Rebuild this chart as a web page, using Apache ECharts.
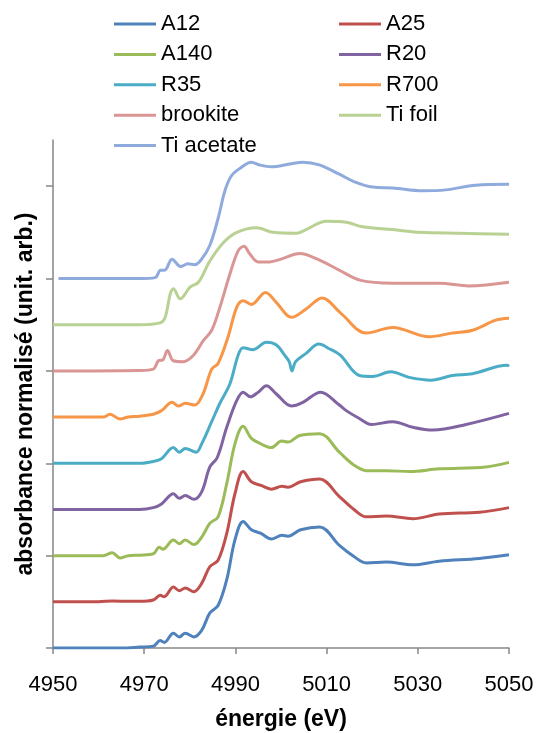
<!DOCTYPE html>
<html>
<head>
<meta charset="utf-8">
<script src="https://cdn.jsdelivr.net/npm/echarts@6/dist/echarts.min.js"></script>
<style>
html,body{margin:0;padding:0;background:#fff;}
#chart{width:539px;height:733px;}
</style>
</head>
<body>
<div id="chart"></div>
<script>
// Series names (legend order)
const seriesNames = ['A12','A25','A140','R20','R35','R700','brookite','Ti foil','Ti acetate'];
const legendCol1 = ['A12','A140','R35','brookite','Ti acetate'];
const legendCol2 = ['A25','R20','R700','Ti foil'];
const xTicks = [4950,4970,4990,5010,5030,5050];
const yTicks = [0,1,2,3,4,5];

// [energy (eV), normalised absorbance + offset]
const A12 = [[4950,0],[4960,0],[4965,0.0],[4969,0.01],[4972,0.02],[4973.5,0.08],[4974.4,0.06],[4976.4,0.16],[4977.7,0.12],[4979,0.16],[4980.9,0.12],[4982.6,0.19],[4984.4,0.38],[4986.2,0.46],[4988.1,0.74],[4989.9,1.17],[4991.7,1.37],[4993.5,1.28],[4995.6,1.24],[4997.9,1.18],[5000.2,1.22],[5001.5,1.21],[5004.3,1.28],[5008.5,1.31],[5012.8,1.11],[5016,0.99],[5018.7,0.92],[5023.1,0.93],[5028.9,0.90],[5034.7,0.94],[5043.5,0.97],[5050,1.01]];
const A25 = [[4950,0.5],[4960,0.5],[4963,0.51],[4969,0.505],[4972,0.52],[4973.5,0.57],[4974.4,0.555],[4976.4,0.66],[4977.7,0.62],[4979,0.65],[4980.9,0.61],[4982.6,0.70],[4984.4,0.88],[4986.2,0.95],[4988.1,1.24],[4989.9,1.67],[4991.7,1.91],[4993.5,1.80],[4995.6,1.76],[4997.9,1.72],[5000.2,1.75],[5001.5,1.74],[5004.3,1.80],[5008.5,1.83],[5012.8,1.64],[5016,1.50],[5018.7,1.42],[5023.1,1.43],[5028.9,1.40],[5034.7,1.45],[5043.5,1.47],[5050,1.52]];
const A140 = [[4950,1.0],[4961,1.0],[4963,1.03],[4964.7,0.975],[4966.5,1.0],[4969,1.005],[4972,1.02],[4973.3,1.09],[4974.1,1.07],[4976.4,1.17],[4977.7,1.13],[4979,1.17],[4980.9,1.12],[4982.6,1.20],[4984.4,1.35],[4986.2,1.42],[4988.1,1.78],[4989.9,2.21],[4991.7,2.40],[4993.5,2.27],[4995.6,2.21],[4997.9,2.17],[5000.1,2.24],[5001.5,2.23],[5004.1,2.30],[5008.5,2.32],[5012.8,2.12],[5016,1.98],[5018.7,1.92],[5023.1,1.92],[5028.2,1.91],[5034.7,1.94],[5044.9,1.96],[5050,2.01]];
const R20 = [[4950,1.5],[4969,1.50],[4972,1.52],[4973.8,1.56],[4976.4,1.67],[4977.7,1.62],[4979,1.65],[4980.9,1.61],[4982.6,1.69],[4984.4,1.96],[4986.0,2.06],[4988.1,2.39],[4990.3,2.68],[4991.7,2.77],[4993.3,2.72],[4995,2.77],[4996.8,2.84],[4999,2.75],[5002.3,2.62],[5004.8,2.66],[5008.7,2.77],[5012.8,2.63],[5014.3,2.57],[5017,2.49],[5019.8,2.42],[5024.5,2.45],[5028.9,2.39],[5033.3,2.36],[5040.6,2.42],[5050,2.54]];
const R35 = [[4950,2.0],[4969,2.0],[4972,2.02],[4973.8,2.05],[4976.4,2.17],[4977.7,2.12],[4979,2.16],[4981.4,2.12],[4982.6,2.21],[4984.8,2.45],[4986.6,2.65],[4988.8,2.86],[4990.6,3.17],[4991.7,3.25],[4993.9,3.23],[4996.8,3.31],[4999,3.28],[5000.8,3.17],[5001.8,3.10],[5002.4,3.00],[5003.2,3.10],[5005.5,3.19],[5008.3,3.29],[5010.6,3.24],[5013,3.17],[5017.2,2.95],[5020.1,2.94],[5024.1,2.99],[5028.1,2.93],[5032.9,2.90],[5037.6,2.95],[5042,2.97],[5049.6,3.06],[5050,3.05]];
const R700 = [[4950,2.5],[4961,2.5],[4962.5,2.53],[4964.7,2.48],[4966.5,2.5],[4969,2.51],[4972,2.53],[4973.8,2.57],[4976.1,2.66],[4977.5,2.62],[4979,2.65],[4981.1,2.63],[4982.9,2.75],[4984.8,3.02],[4986.2,3.08],[4988.4,3.37],[4990.3,3.69],[4991.7,3.76],[4993.5,3.72],[4996.6,3.85],[4999,3.74],[5002.3,3.58],[5005.5,3.67],[5009,3.79],[5013.2,3.62],[5018.7,3.41],[5024.5,3.47],[5032.5,3.37],[5037.6,3.41],[5042,3.44],[5047.1,3.55],[5050,3.57]];
const brookite = [[4950,3.0],[4969,3.005],[4972,3.02],[4973.1,3.11],[4974.1,3.12],[4975.1,3.22],[4976.4,3.11],[4978.6,3.10],[4980.8,3.17],[4983,3.33],[4984.8,3.44],[4986.6,3.69],[4988.8,4.05],[4990.6,4.30],[4991.9,4.35],[4993.1,4.27],[4995,4.18],[4997.5,4.18],[5000,4.21],[5004.1,4.27],[5008,4.21],[5012.8,4.09],[5017.5,3.98],[5024.5,3.95],[5034.7,3.95],[5041.2,3.92],[5050,3.96]];
const TiFoil = [[4950,3.5],[4969,3.50],[4973.5,3.52],[4974.6,3.58],[4975.7,3.83],[4976.4,3.89],[4977.9,3.78],[4980.1,3.91],[4981.9,3.96],[4984.4,4.19],[4987.4,4.39],[4990.3,4.50],[4994.6,4.55],[4998.3,4.50],[5003.4,4.49],[5005.5,4.53],[5009.9,4.62],[5014.3,4.61],[5017.9,4.56],[5024.5,4.53],[5030.3,4.50],[5039,4.49],[5050,4.48]];
const TiAcetate = [[4951.2,4.0],[4969,4.0],[4972.4,4.01],[4973.6,4.09],[4974.5,4.09],[4976.1,4.21],[4978,4.13],[4979.6,4.16],[4981.1,4.15],[4982.6,4.21],[4984.4,4.36],[4986.2,4.65],[4987.7,4.95],[4989.1,5.11],[4990.9,5.19],[4993.5,5.26],[4995.3,5.23],[4997.9,5.21],[5001.9,5.24],[5004.8,5.26],[5008.4,5.23],[5012.8,5.13],[5016,5.05],[5020.1,4.99],[5024.5,4.98],[5031,4.95],[5036.1,4.96],[5042.7,5.01],[5050,5.02]];

const seriesData = [A12, A25, A140, R20, R35, R700, brookite, TiFoil, TiAcetate];
const colors = ['#4F81BD','#C0504D','#9BBB59','#8064A2','#4BACC6','#F79646','#D99694','#B9D193','#8FAADC'];

const FONT = 'Liberation Sans';
const legendCommon = {
  orient: 'vertical',
  icon: 'rect',
  itemWidth: 42,
  itemHeight: 3,
  itemGap: 8.4,
  padding: 0,
  textStyle: {fontFamily: FONT, fontSize: 22, color: '#000', lineHeight: 22},
  selectedMode: false
};

const chart = echarts.init(document.getElementById('chart'), null, {renderer: 'canvas'});
chart.setOption({
  animation: false,
  color: colors,
  legend: [
    Object.assign({}, legendCommon, {data: legendCol1, left: 114, top: 13}),
    Object.assign({}, legendCommon, {data: legendCol2, left: 339, top: 13})
  ],
  grid: {left: 53, right: 30, top: 140, bottom: 85, containLabel: false, outerBoundsMode: 'none'},
  xAxis: {
    type: 'value', min: xTicks[0], max: xTicks[xTicks.length-1], interval: 20,
    name: 'énergie (eV)', nameLocation: 'middle', nameGap: 60,
    nameTextStyle: {fontFamily: FONT, fontSize: 23, fontWeight: 'bold', color: '#000'},
    axisLine: {lineStyle: {color: '#868686', width: 1.5}},
    axisTick: {show: true, inside: false, length: 6, lineStyle: {color: '#868686', width: 1.5}},
    axisLabel: {fontFamily: FONT, fontSize: 22, color: '#000', margin: 26,
      formatter: v => xTicks.includes(v) ? String(v) : ''},
    splitLine: {show: false}
  },
  yAxis: {
    type: 'value', min: 0, max: 5.5, interval: 1,
    name: 'absorbance normalisé (unit. arb.)', nameLocation: 'middle', nameGap: 16, nameRotate: 90,
    nameTextStyle: {fontFamily: FONT, fontSize: 23, fontWeight: 'bold', color: '#000'},
    axisLine: {show: true, onZero: false, lineStyle: {color: '#868686', width: 1.5}},
    axisTick: {show: true, inside: false, length: 7, customValues: yTicks, lineStyle: {color: '#868686', width: 1.5}},
    axisLabel: {show: false},
    splitLine: {show: false}
  },
  series: seriesNames.map((n, i) => ({
    name: n, type: 'line', data: seriesData[i], smooth: 0.35,
    showSymbol: false, symbol: 'none',
    lineStyle: {width: 3, color: colors[i]},
    itemStyle: {color: colors[i]},
    z: 2
  }))
});
</script>
</body>
</html>
